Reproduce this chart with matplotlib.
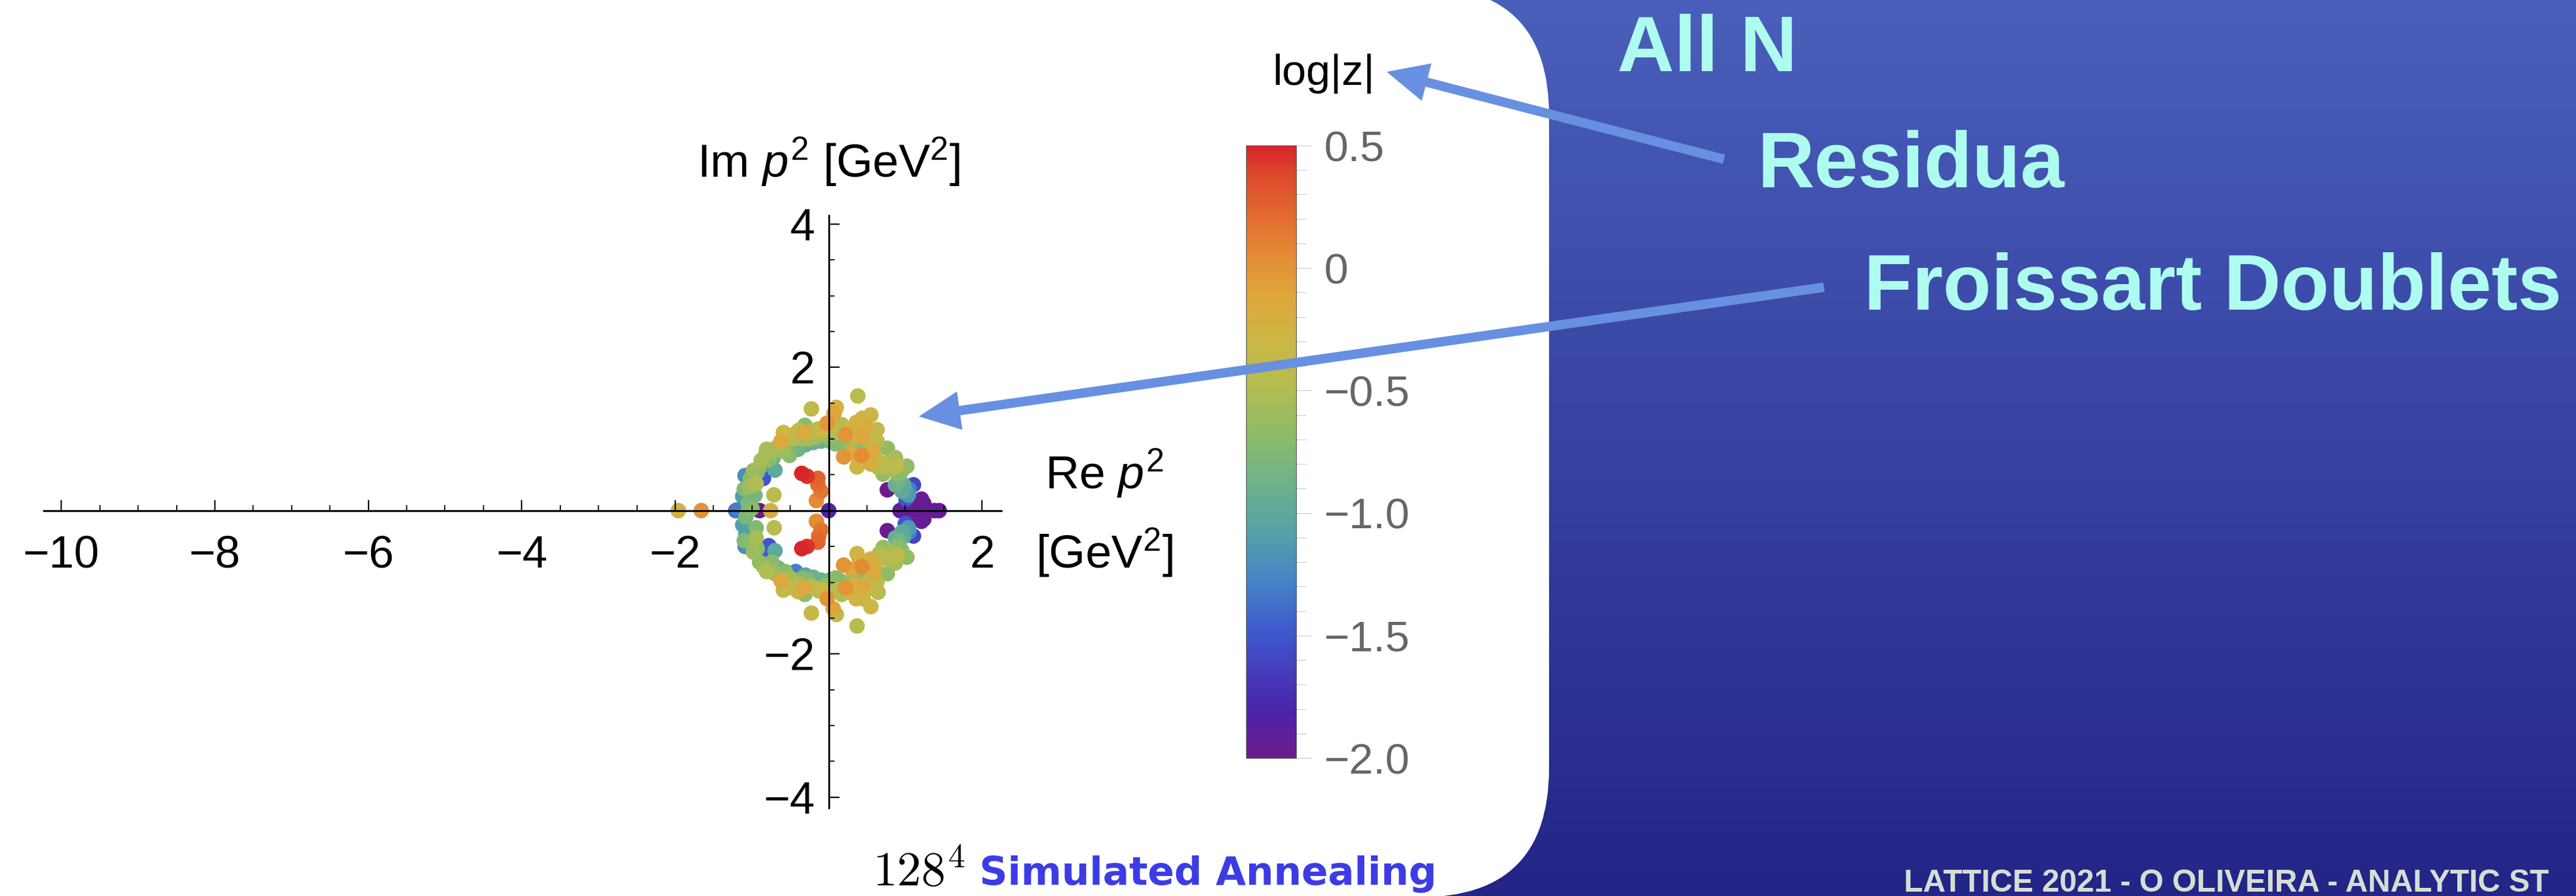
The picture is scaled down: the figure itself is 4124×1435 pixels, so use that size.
import numpy as np
import matplotlib
matplotlib.use("Agg")
import matplotlib.pyplot as plt
from matplotlib.colors import LinearSegmentedColormap
from matplotlib.patches import FancyBboxPatch, FancyArrow

plt.rcParams['font.family'] = ['Liberation Sans', 'DejaVu Sans']
plt.rcParams['mathtext.fontset'] = 'custom'
plt.rcParams['mathtext.rm'] = 'Liberation Sans'
plt.rcParams['mathtext.it'] = 'Liberation Sans:italic'
plt.rcParams['mathtext.bf'] = 'Liberation Sans:bold'

W, H, DPI = 4124, 1435, 100

# poles: (Re p^2, Im p^2, log|z|)
upper = [
    (-1.19, 0.01, -1.3), (-1.09, 0.49, -1.2), (-1.05, 0.10, -0.8), (-1.04, 0.33, -0.6),
    (-0.945, 0.375, -0.5), (-0.93, 0.535, -0.7), (-0.96, 0.215, -0.8), (-1.00, 0.03, -0.7),
    (-0.86, 0.62, -1.45), (-0.85, 0.45, -1.5), (-0.81, 0.855, -0.55), (-0.78, 0.71, -0.7),
    (-0.70, 0.565, -1.0), (-0.714, 0.22, -0.45), (-0.62, 0.97, -0.15), (-0.59, 1.09, -0.3),
    (-0.59, 0.83, -0.6), (-0.51, 0.77, -0.7), (-0.47, 1.00, -0.5), (-0.40, 0.855, -0.85),
    (-0.39, 1.12, -0.35), (-0.32, 1.09, -0.15), (-0.31, 1.19, -0.7), (-0.27, 1.00, -0.55),
    (-0.225, 1.42, -0.4), (-0.20, 1.12, -0.45), (-0.16, 1.03, -0.55), (-0.09, 1.12, -0.3),
    (-0.10, 0.97, -0.9), (-0.02, 1.22, 0.0), (-0.01, 1.03, -0.7),
    (-1.12, 0.20, -1.1), (-1.10, 0.30, -0.75), (-1.02, 0.45, -0.7), (-0.98, 0.56, -0.6),
    (-0.90, 0.60, -0.75), (-0.88, 0.70, -0.55), (-0.83, 0.76, -0.7), (-0.75, 0.82, -0.6),
    (-0.68, 0.88, -0.55), (-0.72, 0.74, -0.85), (-0.60, 0.92, -0.7), (-0.55, 1.05, -0.4),
    (-0.48, 0.92, -0.8), (-0.44, 1.07, -0.45), (-0.35, 1.00, -0.6), (-0.30, 0.92, -0.95),
    (-0.22, 1.08, -0.5), (-0.20, 0.95, -0.9), (-0.13, 1.14, -0.4), (-0.05, 1.08, -0.6),
    (0.00, 1.15, -0.4), (0.03, 0.96, -0.85),
    (0.07, 1.36, -0.1), (0.10, 1.44, -0.3), (0.17, 1.20, -0.45), (0.09, 0.93, -0.75),
    (0.22, 1.06, 0.0), (0.20, 0.94, -0.7), (0.36, 1.23, -0.2), (0.38, 1.60, -0.45),
    (0.44, 1.29, -0.3), (0.55, 1.335, -0.3), (0.44, 1.03, -0.1), (0.48, 1.19, -0.2),
    (0.195, 0.75, 0.0), (0.30, 0.80, -0.15), (0.43, 0.77, 0.05), (0.37, 0.61, -0.3),
    (0.55, 0.65, -0.2), (0.575, 0.83, -0.15), (0.63, 1.13, -0.4), (0.63, 0.97, -0.45),
    (0.47, 0.91, -1.0), (0.71, 0.62, -0.45), (0.765, 0.87, -0.65), (0.71, 0.51, -0.65),
    (0.87, 0.74, -0.55), (0.89, 0.62, -0.4), (0.90, 0.51, -0.7), (1.02, 0.62, -0.65),
    (0.87, 0.36, -0.9), (0.955, 0.27, -1.0), (1.04, 0.215, -1.15), (1.01, 0.16, -1.5),
    (1.105, 0.36, -1.6), (0.765, 0.29, -2.0), (1.21, 0.16, -1.95), (1.01, 0.10, -1.95),
    (0.12, 1.10, -0.5), (0.14, 0.98, -0.75), (0.27, 1.12, -0.3), (0.30, 0.97, -0.6),
    (0.33, 1.05, -0.25), (0.40, 0.95, -0.7), (0.50, 1.08, -0.35), (0.55, 0.95, -0.5),
    (0.60, 1.05, -0.35), (0.48, 0.72, -0.25), (0.40, 0.68, -0.25), (0.62, 0.72, -0.35),
    (0.65, 0.60, -0.5), (0.78, 0.68, -0.5), (0.82, 0.58, -0.55), (0.95, 0.55, -0.7),
    (0.92, 0.42, -0.85), (0.98, 0.36, -1.0), (1.00, 0.28, -1.1), (1.05, 0.30, -1.3),
    (-0.35, 0.52, 0.5), (-0.28, 0.48, 0.45), (-0.14, 0.45, 0.25), (-0.14, 0.36, 0.2),
    (-0.10, 0.27, 0.15), (-0.16, 0.14, 0.05),
]

lower = [
    (-1.08, -0.09, -0.8), (-0.71, -0.24, -0.45), (-0.945, -0.24, -0.75), (-1.08, -0.33, -1.1),
    (-1.09, -0.50, -1.2), (-0.945, -0.38, -0.55), (-0.93, -0.53, -0.7), (-0.78, -0.49, -1.5),
    (-0.86, -0.645, -1.45), (-0.70, -0.56, -1.0), (-0.81, -0.85, -0.5), (-0.74, -0.72, -0.7),
    (-0.62, -0.98, -0.15), (-0.59, -1.11, -0.35), (-0.565, -0.85, -0.7), (-0.51, -0.94, -0.55),
    (-0.43, -0.85, -1.3), (-0.40, -1.02, -0.5), (-0.40, -1.13, -0.35), (-0.32, -1.08, -0.15),
    (-0.31, -1.17, -0.65), (-0.27, -0.97, -0.75), (-0.225, -1.43, -0.35), (-0.185, -1.08, -0.45),
    (-0.10, -0.97, -0.9), (-0.076, -1.11, -0.3), (-0.02, -1.23, 0.0), (0.06, -1.37, -0.1),
    (0.10, -1.45, -0.4), (0.09, -0.94, -0.7), (0.17, -1.17, -0.5), (0.22, -1.08, 0.0),
    (0.37, -1.61, -0.45), (0.195, -0.76, 0.0), (0.30, -0.82, -0.15), (0.43, -0.78, 0.05),
    (0.37, -0.60, -0.3), (0.44, -1.04, -0.15), (0.36, -1.23, -0.25), (0.45, -1.23, -0.3),
    (0.55, -1.34, -0.3), (0.55, -0.675, -0.2), (0.59, -0.85, -0.15), (0.63, -0.995, -0.45),
    (0.645, -1.14, -0.45), (0.47, -0.94, -1.0), (0.71, -0.645, -0.45), (0.765, -0.88, -0.65),
    (0.71, -0.515, -0.65), (0.87, -0.73, -0.55), (0.89, -0.62, -0.4), (1.02, -0.65, -0.65),
    (0.90, -0.50, -0.7), (0.87, -0.38, -0.95), (0.955, -0.30, -1.0), (1.04, -0.24, -1.15),
    (1.00, -0.18, -1.5), (1.105, -0.355, -1.6), (0.765, -0.28, -2.0), (1.21, -0.15, -1.95),
    (-1.12, -0.20, -1.1), (-1.10, -0.42, -0.75), (-1.02, -0.45, -0.7), (-0.98, -0.58, -0.6),
    (-0.90, -0.72, -0.65), (-0.85, -0.78, -0.6), (-0.78, -0.80, -0.75), (-0.70, -0.88, -0.6),
    (-0.66, -0.80, -0.85), (-0.60, -0.92, -0.7), (-0.55, -1.05, -0.45), (-0.48, -0.95, -0.8),
    (-0.46, -1.08, -0.4), (-0.35, -0.95, -0.7), (-0.30, -0.90, -1.0), (-0.24, -1.05, -0.55),
    (-0.20, -0.93, -0.9), (-0.13, -1.12, -0.4), (-0.05, -1.05, -0.65), (0.00, -1.15, -0.45),
    (0.03, -0.96, -0.85),
    (0.12, -1.10, -0.5), (0.14, -0.97, -0.75), (0.27, -1.14, -0.35), (0.30, -0.97, -0.6),
    (0.34, -1.05, -0.25), (0.40, -0.93, -0.7), (0.50, -1.10, -0.3), (0.55, -0.95, -0.5),
    (0.60, -1.05, -0.4), (0.48, -0.72, -0.25), (0.40, -0.68, -0.25), (0.62, -0.74, -0.35),
    (0.66, -0.60, -0.5), (0.78, -0.68, -0.5), (0.82, -0.58, -0.55), (0.95, -0.55, -0.7),
    (0.92, -0.42, -0.85), (0.98, -0.36, -1.0), (1.00, -0.28, -1.1), (1.05, -0.30, -1.3),
    (-0.35, -0.53, 0.5), (-0.28, -0.50, 0.45), (-0.14, -0.44, 0.25), (-0.13, -0.355, 0.2),
    (-0.10, -0.27, 0.15), (-0.16, -0.15, 0.05),
]

# poles on / next to the real axis
near_real = [
    (-1.96, 0.0, -0.25), (-1.66, 0.0, 0.0), (-1.21, 0.0, -1.45), (-1.05, 0.0, -0.75),
    (-0.90, 0.0, -2.0), (-0.755, 0.0, -0.2), (0.0, 0.0, -1.85),
    (0.93, 0.0, -1.95), (1.05, 0.0, -1.95), (1.17, 0.0, -1.95), (1.28, 0.0, -1.95),
    (1.38, 0.0, -1.95), (1.44, 0.0, -1.95), (1.24, 0.10, -1.95), (1.24, -0.12, -1.95),
    (1.15, 0.08, -1.95), (1.15, -0.09, -1.95),
]

xticks = [-10, -8, -6, -4, -2, 2]
xtick_labels = ['\u221210', '\u22128', '\u22126', '\u22124', '\u22122', '2']
yticks = [-4, -2, 2, 4]
ytick_labels = ['\u22124', '\u22122', '2', '4']
cb_ticks = [-2.0, -1.5, -1.0, -0.5, 0.0, 0.5]
cb_labels = ['\u22122.0', '\u22121.5', '\u22121.0', '\u22120.5', '0', '0.5']

# Mathematica "Rainbow"-like colour scale
cb_stops = [-2.0, -1.8, -1.5, -1.27, -1.07, -0.87, -0.68, -0.48, -0.29, -0.1, 0.05, 0.22, 0.38, 0.5]
cb_colors = ['#6d1b8c', '#4a25ab', '#3e56cc', '#4585c7', '#57a2a6', '#6fb28a', '#8dbb69',
             '#b4bd50', '#cdb644', '#dfa53b', '#e48c35', '#e26a2f', '#dd4a2b', '#d8252a']
rainbow = LinearSegmentedColormap.from_list(
    'rainbow_mma', [((v + 2.0) / 2.5, c) for v, c in zip(cb_stops, cb_colors)])

pts = np.array(upper + lower + near_real)
order = np.argsort(pts[:, 2], kind='stable')
pts = pts[order]

fig = plt.figure(figsize=(W / DPI, H / DPI), dpi=DPI)

# slide background
bg = fig.add_axes([0, 0, 1, 1])
bg.set_xlim(0, W)
bg.set_ylim(H, 0)
bg.axis('off')
grad = np.linspace(0, 1, 256)[:, None]
bg.imshow(grad, cmap=LinearSegmentedColormap.from_list('bg', ['#4a5fbb', '#232587']),
          extent=[0, W, H, 0], aspect='auto')
bg.add_patch(FancyBboxPatch((-400, -22), 2880, 1459,
                            boxstyle='round,pad=0,rounding_size=207',
                            fc='white', ec='none'))

# main plot
ax = fig.add_axes([70 / W, (H - 1294) / H, 1533 / W, 949 / H])
ax.patch.set_alpha(0)
ax.set_xlim(-10.23, 2.25)
ax.set_ylim(-4.15, 4.12)
sc = ax.scatter(pts[:, 0], pts[:, 1], c=pts[:, 2], cmap=rainbow, vmin=-2.0, vmax=0.5,
                s=320, linewidths=0, zorder=1, clip_on=False)
for s in ['top', 'right']:
    ax.spines[s].set_visible(False)
ax.spines['left'].set_position(('data', 0))
ax.spines['bottom'].set_position(('data', 0))
ax.spines['left'].set_linewidth(2.0)
ax.spines['bottom'].set_linewidth(2.2)
ax.set_xticks(xticks)
ax.set_xticklabels(xtick_labels)
ax.set_yticks(yticks)
ax.set_yticklabels(ytick_labels)
ax.set_xticks(np.arange(-10, 2.01, 0.5), minor=True)
ax.set_yticks(np.arange(-4, 4.01, 0.5), minor=True)
ax.tick_params(which='major', direction='in', length=12, width=1.6, labelsize=52)
ax.tick_params(which='minor', direction='in', length=6.5, width=1.3)
ax.tick_params(axis='x', which='major', pad=28)
ax.tick_params(axis='y', which='major', pad=16)

# colour bar
cax = fig.add_axes([1995 / W, (H - 1214) / H, 80 / W, 981 / H])
cb = fig.colorbar(sc, cax=cax)
cb.set_ticks(cb_ticks)
cb.set_ticklabels(cb_labels)
cb.set_ticks(np.arange(-2.0, 0.51, 0.1), minor=True)
cb.ax.tick_params(which='major', length=18, width=0.8, color='#cccccc',
                  labelsize=50, labelcolor='#666666', pad=14)
cb.ax.tick_params(which='minor', length=11.5, width=0.8, color='#cccccc')
cb.outline.set_edgecolor('#555555')
cb.outline.set_linewidth(0.8)

# overlay in pixel coordinates: labels, slide text, arrows
ov = fig.add_axes([0, 0, 1, 1])
ov.set_xlim(0, W)
ov.set_ylim(H, 0)
ov.axis('off')

ov.text(1327, 284, r'Im $p^2$ [GeV$^2$]', fontsize=54, ha='center', va='baseline')
ov.text(1768, 783, r'Re $p^2$', fontsize=54, ha='center', va='baseline')
ov.text(1768, 910, r'[GeV$^2$]', fontsize=54, ha='center', va='baseline')
ov.text(2119, 136, 'log|z|', fontsize=50, ha='center', va='baseline')

ov.text(1397, 1419, r'$128^4$', math_fontfamily='cm', fontsize=56, ha='left', va='baseline')
ov.text(1568, 1417, 'Simulated Annealing', family='DejaVu Sans', fontweight='bold',
        fontsize=45, color='#3c3ce6', ha='left', va='baseline')

cyan = '#adfcef'
ov.text(2589, 114, 'All N', fontsize=91, fontweight='bold', color=cyan, va='baseline')
ov.text(2813, 300, 'Residua', fontsize=91, fontweight='bold', color=cyan, va='baseline')
ov.text(2984, 496, 'Froissart Doublets', fontsize=91, fontweight='bold', color=cyan, va='baseline')
ov.text(3048, 1428, 'LATTICE 2021 - O OLIVEIRA - ANALYTIC ST', fontsize=36,
        fontweight='bold', color='#d8ddd3', va='baseline')

arrow_col = '#6890e0'
for (x0, y0), (x1, y1) in [((2760, 255), (2220, 115)), ((2920, 460), (1471, 667))]:
    ov.add_patch(FancyArrow(x0, y0, x1 - x0, y1 - y0, width=15, head_width=62,
                            head_length=66, length_includes_head=True,
                            color=arrow_col, lw=0))

fig.savefig('out.png', dpi=DPI)
